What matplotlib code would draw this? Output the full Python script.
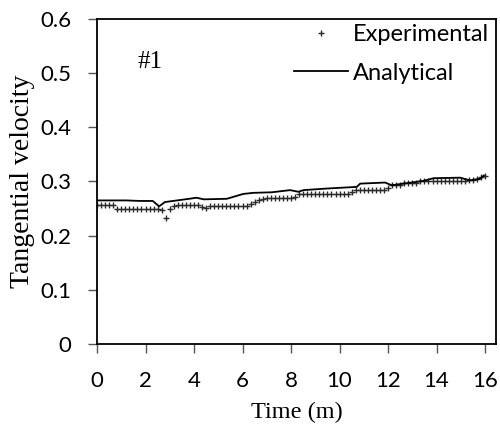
import numpy as np
import matplotlib
matplotlib.use("Agg")
import matplotlib.pyplot as plt

# experimental samples every 10 s (1/6 min)
exp_vel = [0.257, 0.257, 0.257, 0.257, 0.257,
           0.249, 0.249, 0.249, 0.249, 0.249, 0.249, 0.249, 0.249, 0.249, 0.249, 0.249,
           0.248, 0.233, 0.249, 0.255,
           0.256, 0.256, 0.256, 0.256, 0.256, 0.256,
           0.253, 0.251,
           0.254, 0.254, 0.254, 0.254, 0.254, 0.254, 0.254, 0.254, 0.254, 0.254,
           0.258, 0.262, 0.265, 0.267,
           0.270, 0.270, 0.270, 0.270, 0.270, 0.270, 0.270, 0.272,
           0.277, 0.277, 0.277, 0.277, 0.277, 0.277, 0.277, 0.277, 0.277, 0.277,
           0.277, 0.277, 0.277,
           0.281, 0.284, 0.284, 0.284, 0.284, 0.284, 0.284, 0.284, 0.284, 0.288,
           0.293, 0.293, 0.293,
           0.298, 0.298, 0.298, 0.298,
           0.300, 0.300, 0.300, 0.300, 0.300, 0.300, 0.300, 0.300, 0.300, 0.300,
           0.300, 0.300,
           0.302, 0.302, 0.305, 0.309, 0.311]
exp_time = np.arange(len(exp_vel)) / 6.0

ana_time = [0.0, 0.6, 1.2, 1.8, 2.3, 2.56, 2.8, 3.3, 3.8, 4.1, 4.4, 5.35, 6.03, 6.45,
            7.2, 7.96, 8.3, 8.51, 9.5, 10.71, 10.85, 11.88, 12.15, 12.63, 13.46, 13.87,
            14.97, 15.38, 15.8, 15.95]
ana_vel = [0.265, 0.265, 0.265, 0.264, 0.264, 0.254, 0.262, 0.265, 0.268, 0.270, 0.267,
           0.268, 0.277, 0.279, 0.280, 0.284, 0.281, 0.284, 0.287, 0.290, 0.296, 0.298,
           0.293, 0.296, 0.301, 0.306, 0.307, 0.302, 0.305, 0.311]

plt.rcParams['font.family'] = ['Lato', 'DejaVu Sans']

fig = plt.figure(figsize=(5, 4.3), dpi=100)
ax = fig.add_axes([0.194, 0.2, 0.798, 0.756])

ax.plot(exp_time, exp_vel, linestyle='none', marker='+', markersize=5,
        markeredgewidth=1.0, color='#2a2a2a', label='Experimental')
ax.plot(ana_time, ana_vel, color='black', linewidth=1.3, label='Analytical')

ax.set_xlim(0, 16.45)
ax.set_ylim(0, 0.6)
ax.set_xticks(range(0, 17, 2))
ax.set_yticks([0, 0.1, 0.2, 0.3, 0.4, 0.5, 0.6])
ax.set_yticklabels(['0', '0.1', '0.2', '0.3', '0.4', '0.5', '0.6'])
ax.tick_params(direction='out', length=6.5, width=1, color='#555555', labelsize=16)
ax.tick_params(axis='y', pad=12)
ax.tick_params(axis='x', pad=13)
for s in ax.spines.values():
    s.set_linewidth(1.3)

serif = ['Liberation Serif', 'DejaVu Serif']
ax.set_xlabel('Time (m)', family=serif, fontsize=17.5)
ax.set_ylabel('Tangential velocity', family=serif, fontsize=20)
ax.xaxis.set_label_coords(0.5, -0.179)
ax.yaxis.set_label_coords(-0.155, 0.5)
ax.text(1.69, 0.509, '#1', family=serif, fontsize=18)

leg = ax.legend(loc='upper right', bbox_to_anchor=(0.982, 0.985), frameon=False,
                fontsize=17, handlelength=2.3, handletextpad=0.2, labelspacing=0.75,
                borderaxespad=0.0, borderpad=0.0, numpoints=1)

fig.savefig("out.png")
